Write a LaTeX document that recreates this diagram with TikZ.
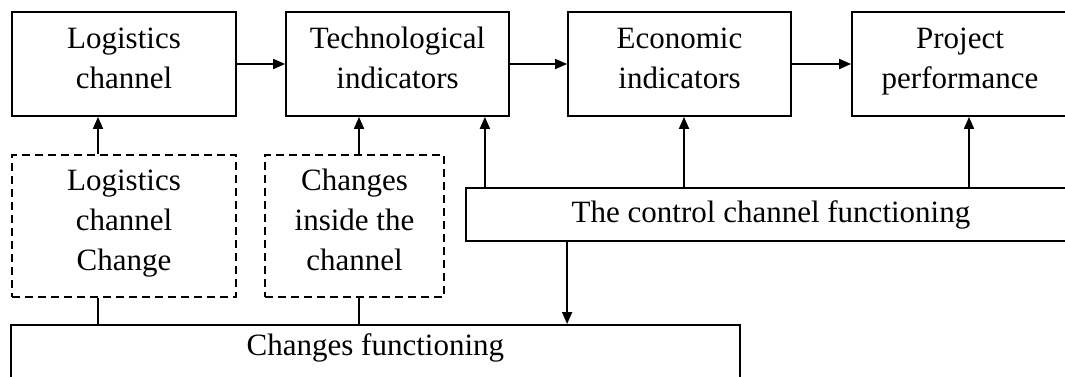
\documentclass[tikz,border=0pt]{standalone}
\usepackage{fontspec}
\setmainfont{Liberation Serif}
\usetikzlibrary{arrows.meta}
\newcommand{\bigtext}{\fontsize{31}{40}\selectfont}

\begin{document}
\begin{tikzpicture}[x=1pt,y=-1pt,line width=1.8pt,
   >={Triangle[length=12pt,width=10pt]},
   blk/.style={draw,minimum height=104pt,inner sep=0pt,align=center,font=\bigtext,
     execute at begin node=\strut,execute at end node=\strut},
   chbox/.style={blk,dash pattern=on 8pt off 5pt,line width=1.5pt,minimum height=142pt}]
   \useasboundingbox (0,0) rectangle (1065,376);
   \clip (0,0) rectangle (1065,376);
   % top row
   \node[blk,minimum width=224pt] (logch) at (124,64) {Logistics\\channel};
   \node[blk,minimum width=223pt] (tech) at (397.5,64) {Technological\\indicators};
   \node[blk,minimum width=223pt] (econ) at (679.5,64) {Economic\\indicators};
   \node[blk,minimum width=216pt] (proj) at (960,64) {Project\\performance};
   % changes
   \node[chbox,minimum width=224pt] (lchg) at (124,226) {Logistics\\channel\\Change};
   \node[chbox,minimum width=179pt] (inchg) at (354.5,226) {Changes\\inside the\\channel};
   \node[draw,minimum width=610pt,minimum height=53pt,font=\bigtext] (ctrl) at (771,214.5)
     {The control channel functioning};
   \node[draw,anchor=north west,minimum width=729pt,text height=31pt,text depth=40pt,
     inner sep=0pt,font=\bigtext] (chg) at (10,324) {Changes functioning};
   % arrows
   \draw[->] (logch) -- (tech);
   \draw[->] (tech) -- (econ);
   \draw[->] (econ) -- (proj);
   \draw[->] ([xshift=-26pt]lchg.north) -- ([xshift=-26pt]logch.south);
   \draw[->] ([xshift=4.5pt]inchg.north) -- ([xshift=-38.5pt]tech.south);
   \draw[->] ([xshift=-25pt]tech.south east |- ctrl.north) -- ([xshift=-25pt]tech.south east);
   \draw[->] ([xshift=4.5pt]econ.south |- ctrl.north) -- ([xshift=4.5pt]econ.south);
   \draw[->] ([xshift=9pt]proj.south |- ctrl.north) -- ([xshift=9pt]proj.south);
   \draw[->] ([xshift=102pt]ctrl.south west) -- ([xshift=102pt]ctrl.south west |- chg.north);
   \draw ([xshift=-26pt]lchg.south) -- ([xshift=-26pt]lchg.south |- chg.north);
   \draw ([xshift=4.5pt]inchg.south) -- ([xshift=4.5pt]inchg.south |- chg.north);
\end{tikzpicture}
\end{document}
